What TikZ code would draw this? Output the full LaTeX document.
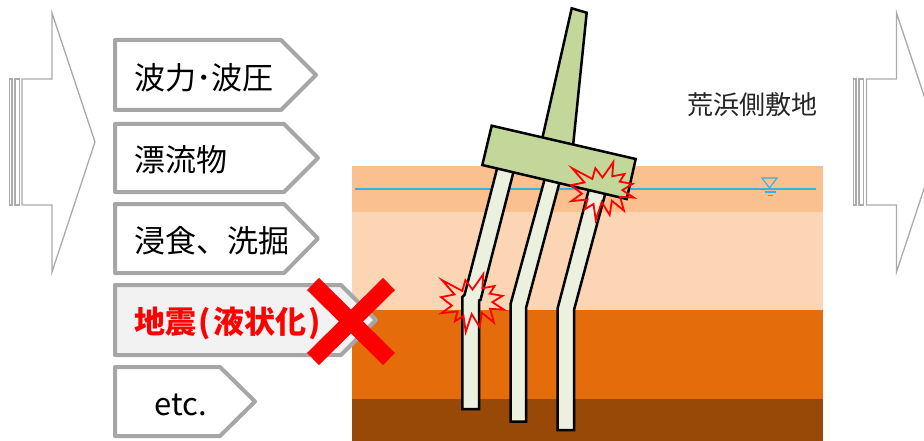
\documentclass[tikz,border=0pt]{standalone}
\usepackage{fontspec}
\setmainfont{Noto Sans CJK JP}
\definecolor{boxgray}{HTML}{A6A6A6}
\definecolor{arrowgray}{HTML}{ABABAB}
\definecolor{boxfourfill}{HTML}{F2F2F2}
\definecolor{layerone}{HTML}{FAC090}
\definecolor{layertwo}{HTML}{FCD5B5}
\definecolor{layerthree}{HTML}{E46C0A}
\definecolor{layerfour}{HTML}{984807}
\definecolor{watercol}{HTML}{33B2E5}
\definecolor{capcol}{HTML}{C4D79B}
\definecolor{pilecol}{HTML}{EBF1DE}
\newcommand\myboom[2]{%
  \draw[boom, shift={(#1pt,-#2pt)}, x=63pt, y=-58pt]
  (0.5,0.2685) -- (0.6723,0) -- (0.6553,0.2465) -- (0.8509,0.2063) -- (0.7732,0.3387) --
  (0.9767,0.3767) -- (0.8151,0.4850) -- (1,0.6153) -- (0.7795,0.5992) -- (0.8400,0.8377) --
  (0.6491,0.6693) -- (0.6133,0.9137) -- (0.4876,0.6914) -- (0.3928,1) -- (0.3572,0.7235) --
  (0.2205,0.8156) -- (0.2624,0.6452) -- (0.00625,0.6753) -- (0.1723,0.5451) -- (0,0.3988) --
  (0.2142,0.3526) -- (0.0171,0.1063) -- (0.3385,0.2926) -- (0.3867,0.1063) -- cycle;}
\begin{document}
\begin{tikzpicture}[x=1pt,y=-1pt,
  boxst/.style={draw=boxgray, line width=4pt, line join=round, fill=white},
  bigarrow/.style={draw=arrowgray, line width=1.3pt, fill=white},
  pilest/.style={draw=black, line width=2.5pt, fill=pilecol, line join=miter},
  capst/.style={draw=black, line width=2.5pt, fill=capcol, line join=miter},
  boom/.style={draw=red, line width=1.8pt, line join=miter},
  boxtext/.style={anchor=base west, inner sep=0pt, font=\fontsize{31}{31}\selectfont},
  waterst/.style={draw=watercol, line width=1.3pt},
  crossst/.style={draw=red, line width=17pt},
]
\useasboundingbox (0,0) rectangle (924,441);
% big striped arrows
\draw[bigarrow] (9.5,79) rectangle (12,205);
\draw[bigarrow] (15,79) rectangle (19.5,205);
\draw[bigarrow] (22,79) -- (52,79) -- (52,13) -- (95,142) -- (52,272) -- (52,205) -- (22,205) -- cycle;
\draw[bigarrow] (853.3,79) rectangle (856,205);
\draw[bigarrow] (859,79) rectangle (863.5,205);
\draw[bigarrow] (866.5,79) -- (896.5,79) -- (896.5,13) -- (939.5,142) -- (896.5,272) -- (896.5,205) -- (866.5,205) -- cycle;
% ground layers
\fill[layerone] (352,166) rectangle (823,212);
\fill[layertwo] (352,212) rectangle (823,310);
\fill[layerthree] (352,310) rectangle (823,399);
\fill[layerfour] (352,399) rectangle (823,441);
% water level
\draw[waterst] (355,189) -- (816,189);
\draw[waterst, line width=1.1pt] (762,178) -- (777,178) -- (769.5,188) -- cycle;
\draw[waterst, line width=1.1pt] (764.5,192) -- (776,192);
\draw[waterst, line width=1.1pt] (767.5,195.3) -- (772.5,195.3);
% tower
\draw[capst] (571.7,8.3) -- (586.7,12.7) -- (572.4,152) -- (540.8,145) -- cycle;
% piles
\draw[pilest] (499.2,160.3) -- (515.8,163) -- (480.5,300) -- (479,300.5) -- (479,409) -- (462.3,409) -- (462.3,297) -- (464.5,295) -- cycle;
\draw[pilest] (546.6,172) -- (561.6,174.6) -- (526,308) -- (526,421.7) -- (510.7,421.7) -- (510.7,303.5) -- cycle;
\draw[pilest] (590.8,182) -- (607.5,185.3) -- (574,310) -- (574,430) -- (557.7,430) -- (557.7,308) -- cycle;
% pile cap
\draw[capst] (491.7,125.7) -- (635.7,159) -- (626.7,199) -- (482.3,165) -- cycle;
% damage marks
\myboom{441}{274}
\myboom{571}{162}
% boxes
\draw[boxst] (115,40) -- (281,40) -- (316,75) -- (281,110) -- (115,110) -- cycle;
\draw[boxst] (115,124) -- (284,124) -- (318,158) -- (284,192) -- (115,192) -- cycle;
\draw[boxst] (115,204) -- (284,204) -- (318,238.5) -- (284,273) -- (115,273) -- cycle;
\draw[boxst, fill=boxfourfill] (115,285) -- (341,285) -- (376,320) -- (341,355) -- (115,355) -- cycle;
\draw[boxst] (115,367) -- (220,367) -- (255,401.5) -- (220,436) -- (115,436) -- cycle;
\node[boxtext] (t1) at (134,89.5) {波力･波圧};
\node[boxtext] (t2) at (134,171.7) {漂流物};
\node[boxtext] (t3) at (134,252) {浸食、洗掘};
\node[boxtext, text=red, font=\fontsize{31}{31}\selectfont\bfseries] (t4) at (134,333) {地震\hspace{2pt}(\hspace{3pt}液状化\hspace{2pt})};
\node[boxtext, anchor=base] (t5) at (181,415) {etc.};
% cross
\coordinate (xa) at (313,284);
\coordinate (xb) at (389,359);
\coordinate (xc) at (389,284);
\coordinate (xd) at (313,359);
\draw[crossst] (xa) -- (xb);
\draw[crossst] (xc) -- (xd);
% site label
\node[anchor=base west, inner sep=0pt, font=\fontsize{26}{26}\selectfont, text={rgb,255:red,38;green,38;blue,38}] (site) at (687,115) {荒浜側敷地};
\end{tikzpicture}
\end{document}
